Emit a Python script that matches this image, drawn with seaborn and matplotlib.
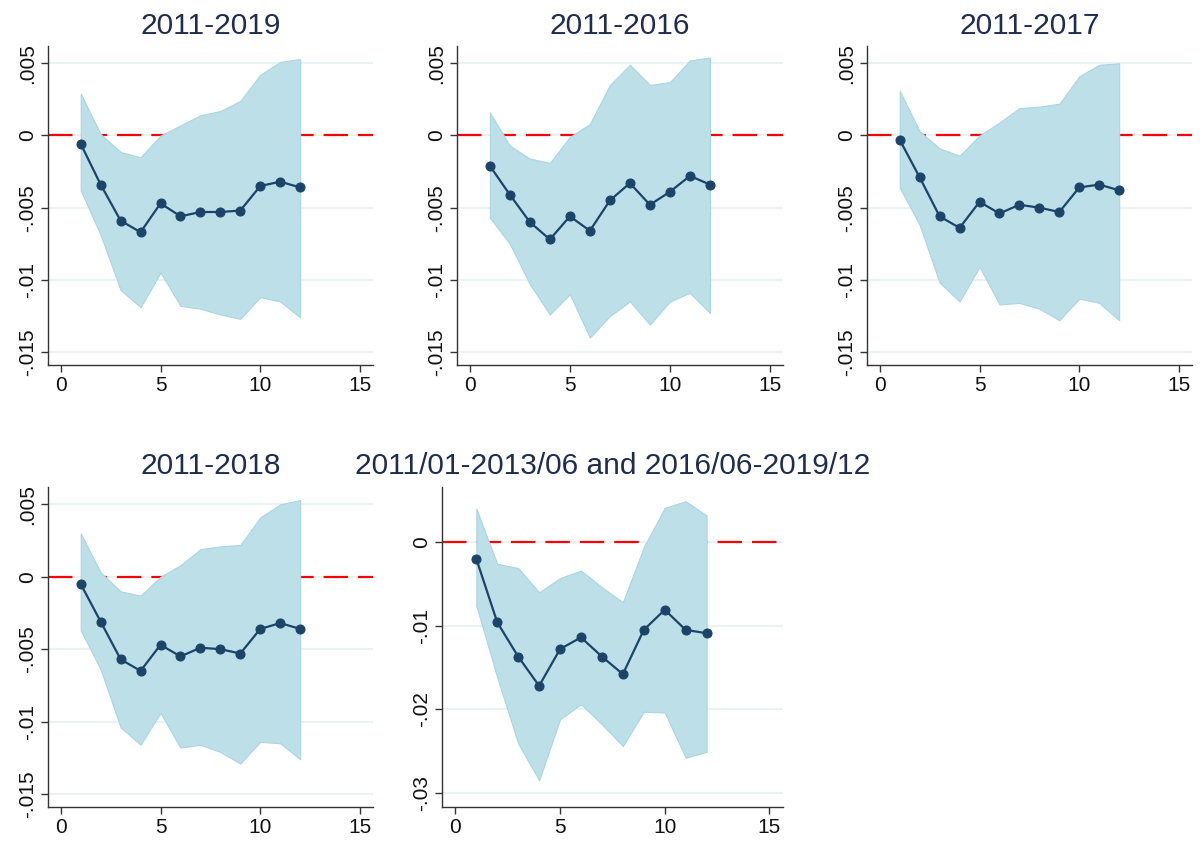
import numpy as np
import pandas as pd
import matplotlib
matplotlib.use("Agg")
import matplotlib.pyplot as plt
import seaborn as sns

# horizons
steps = list(range(1, 13))

# 2011-2019
irf_1119 = [-0.00058, -0.0034, -0.0059, -0.0067, -0.0047, -0.0056, -0.0053, -0.0053, -0.0052, -0.0035, -0.0032, -0.0036]
up_1119 = [0.0029, 0.0001, -0.00115, -0.0015, 0.0, 0.0007, 0.0014, 0.0017, 0.0024, 0.0042, 0.0051, 0.0053]
lo_1119 = [-0.0038, -0.0069, -0.0107, -0.0119, -0.0095, -0.0118, -0.0120, -0.0124, -0.0127, -0.0112, -0.0115, -0.0126]

# 2011-2016
irf_1116 = [-0.0021, -0.0041, -0.0060, -0.0072, -0.0056, -0.0066, -0.0045, -0.0033, -0.0048, -0.0039, -0.0028, -0.0034]
up_1116 = [0.0016, -0.0007, -0.0016, -0.0019, -0.0001, 0.0008, 0.0035, 0.0049, 0.0035, 0.0037, 0.0052, 0.0054]
lo_1116 = [-0.0057, -0.0075, -0.0103, -0.0124, -0.0110, -0.0140, -0.0125, -0.0115, -0.0131, -0.0115, -0.0109, -0.0123]

# 2011-2017
irf_1117 = [-0.0003, -0.0029, -0.0056, -0.0064, -0.0046, -0.0054, -0.0048, -0.0050, -0.0053, -0.0036, -0.0034, -0.0038]
up_1117 = [0.0031, 0.0003, -0.0009, -0.0014, 0.0, 0.0009, 0.0019, 0.0020, 0.0022, 0.0041, 0.0049, 0.0050]
lo_1117 = [-0.0036, -0.0062, -0.0102, -0.0115, -0.0091, -0.0117, -0.0116, -0.0120, -0.0128, -0.0113, -0.0116, -0.0128]

# 2011-2018
irf_1118 = [-0.0005, -0.0031, -0.0057, -0.0065, -0.0047, -0.0055, -0.0049, -0.0050, -0.0053, -0.0036, -0.0032, -0.0036]
up_1118 = [0.0030, 0.0003, -0.0010, -0.0013, 0.0, 0.0008, 0.0019, 0.0021, 0.0022, 0.0041, 0.0050, 0.0053]
lo_1118 = [-0.0037, -0.0064, -0.0104, -0.0116, -0.0094, -0.0118, -0.0116, -0.0121, -0.0129, -0.0114, -0.0115, -0.0126]

# 2011/01-2013/06 and 2016/06-2019/12
irf_split = [-0.0020, -0.0096, -0.0137, -0.0172, -0.0128, -0.0114, -0.0137, -0.0158, -0.0105, -0.0081, -0.0105, -0.0109]
up_split = [0.0040, -0.0026, -0.0031, -0.0060, -0.0043, -0.0034, -0.0054, -0.0072, -0.0006, 0.0041, 0.0049, 0.0032]
lo_split = [-0.0076, -0.0162, -0.0241, -0.0285, -0.0212, -0.0194, -0.0218, -0.0244, -0.0203, -0.0204, -0.0258, -0.0251]

titles = ["2011-2019", "2011-2016", "2011-2017", "2011-2018",
          "2011/01-2013/06 and 2016/06-2019/12"]
series = [(irf_1119, up_1119, lo_1119), (irf_1116, up_1116, lo_1116),
          (irf_1117, up_1117, lo_1117), (irf_1118, up_1118, lo_1118),
          (irf_split, up_split, lo_split)]

small_ticks = [0.005, 0, -0.005, -0.01, -0.015]
small_labels = [".005", "0", "-.005", "-.01", "-.015"]
big_ticks = [0, -0.01, -0.02, -0.03]
big_labels = ["0", "-.01", "-.02", "-.03"]
x_ticks = [0, 5, 10, 15]

sns.set_style("white")
plt.rcParams['font.family'] = ['Liberation Sans', 'DejaVu Sans']

W, H = 1202, 841
fig = plt.figure(figsize=(W / 100, H / 100), dpi=100)

# pixel boxes: left, top, right, bottom
boxes = [(48, 46, 373, 365), (457, 46, 783, 365), (867, 46, 1192, 365),
         (48, 487, 373, 807), (442, 487, 783, 807)]

navy = "#1c4469"
band = "#bcdfe8"
band_edge = "#a9d6e3"

for i, (title, (irf, up, lo), box) in enumerate(zip(titles, series, boxes)):
    l, t, r, b = box
    ax = fig.add_axes([l / W, 1 - b / H, (r - l) / W, (b - t) / H])
    df = pd.DataFrame({"step": steps, "irf": irf, "up": up, "lo": lo})

    if i == 4:
        yt, yl, ylim = big_ticks, big_labels, (-0.0317, 0.0066)
    else:
        yt, yl, ylim = small_ticks, small_labels, (-0.0159, 0.0062)

    for y in yt:
        ax.axhline(y, color="#eaf2f3", lw=1.5, zorder=0)
    ax.axhline(0, color="#ff0000", lw=1.6, dashes=(11, 4.5), zorder=1)
    ax.fill_between(df["step"], df["lo"], df["up"], color=band,
                    edgecolor=band_edge, lw=0.8, zorder=2)
    sns.lineplot(data=df, x="step", y="irf", ax=ax, color=navy, lw=1.6,
                 marker="o", markersize=6.5, markeredgecolor=navy, zorder=3)

    ax.set_xlim(-0.64, 15.65)
    ax.set_ylim(*ylim)
    ax.set_xticks(x_ticks)
    ax.set_xticklabels([str(v) for v in x_ticks])
    ax.set_yticks(yt)
    ax.set_yticklabels(yl, rotation=90, va="center")
    ax.set_xlabel("")
    ax.set_ylabel("")
    ax.tick_params(axis="both", direction="out", length=5, width=1,
                   color="#333333", labelsize=15, labelcolor="#111111", pad=3)
    ax.tick_params(axis="both", which="both", bottom=True, left=True)
    for s in ["top", "right"]:
        ax.spines[s].set_visible(False)
    for s in ["left", "bottom"]:
        ax.spines[s].set_color("#333333")
        ax.spines[s].set_linewidth(1)
    ax.set_title(title, fontsize=21.5, color="#1e2d4f", pad=9)

fig.savefig("out.png", dpi=100)
